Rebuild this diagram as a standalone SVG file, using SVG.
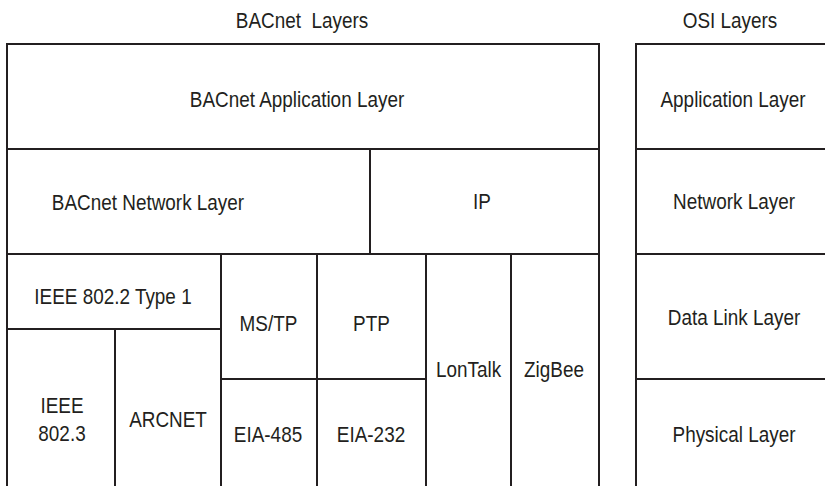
<svg xmlns="http://www.w3.org/2000/svg" width="825" height="486" viewBox="0 0 825 486">
<style>
.c{fill:#fff;stroke:#231f20;stroke-width:2}
.t{font-family:"Liberation Sans",Arial,sans-serif;font-size:22px;fill:#231f20;text-anchor:middle}
</style>
<rect width="825" height="486" fill="#fff"/>
<g id="titles">
<text class="t" transform="translate(302,28) scale(0.86,1)">BACnet&#160; Layers</text>
<text class="t" transform="translate(730,28) scale(0.86,1)">OSI Layers</text>
</g>
<g id="bacnet-app"><rect class="c" x="7" y="44" width="592" height="105"/><text class="t" transform="translate(297,107) scale(0.86,1)">BACnet Application Layer</text></g>
<g id="bacnet-net"><rect class="c" x="7" y="149" width="363" height="105"/><text class="t" transform="translate(148,210) scale(0.86,1)">BACnet Network Layer</text></g>
<g id="ip"><rect class="c" x="370" y="149" width="229" height="105"/><text class="t" transform="translate(482,209) scale(0.86,1)">IP</text></g>
<g id="ieee8022"><rect class="c" x="7" y="254" width="214" height="75"/><text class="t" transform="translate(113,304) scale(0.86,1)">IEEE 802.2 Type 1</text></g>
<g id="ieee8023"><rect class="c" x="7" y="329" width="108" height="170"/><text class="t" transform="translate(62,413) scale(0.86,1)">IEEE</text><text class="t" transform="translate(62,441) scale(0.86,1)">802.3</text></g>
<g id="arcnet"><rect class="c" x="115" y="329" width="106" height="170"/><text class="t" transform="translate(168,427) scale(0.86,1)">ARCNET</text></g>
<g id="mstp"><rect class="c" x="221" y="254" width="96" height="125"/><text class="t" transform="translate(268.5,331) scale(0.86,1)">MS/TP</text></g>
<g id="ptp"><rect class="c" x="317" y="254" width="109" height="125"/><text class="t" transform="translate(371.5,331) scale(0.86,1)">PTP</text></g>
<g id="eia485"><rect class="c" x="221" y="379" width="96" height="120"/><text class="t" transform="translate(268,442) scale(0.86,1)">EIA-485</text></g>
<g id="eia232"><rect class="c" x="317" y="379" width="109" height="120"/><text class="t" transform="translate(371,442) scale(0.86,1)">EIA-232</text></g>
<g id="lontalk"><rect class="c" x="426" y="254" width="85" height="245"/><text class="t" transform="translate(468.5,377) scale(0.86,1)">LonTalk</text></g>
<g id="zigbee"><rect class="c" x="511" y="254" width="88" height="245"/><text class="t" transform="translate(554,377) scale(0.86,1)">ZigBee</text></g>
<g id="osi-app"><rect class="c" x="636" y="44" width="200" height="105"/><text class="t" transform="translate(733,107) scale(0.86,1)">Application Layer</text></g>
<g id="osi-net"><rect class="c" x="636" y="149" width="200" height="105"/><text class="t" transform="translate(734,209) scale(0.86,1)">Network Layer</text></g>
<g id="osi-datalink"><rect class="c" x="636" y="254" width="200" height="125"/><text class="t" transform="translate(734,325) scale(0.86,1)">Data Link Layer</text></g>
<g id="osi-physical"><rect class="c" x="636" y="379" width="200" height="120"/><text class="t" transform="translate(734,442) scale(0.86,1)">Physical Layer</text></g>
</svg>
